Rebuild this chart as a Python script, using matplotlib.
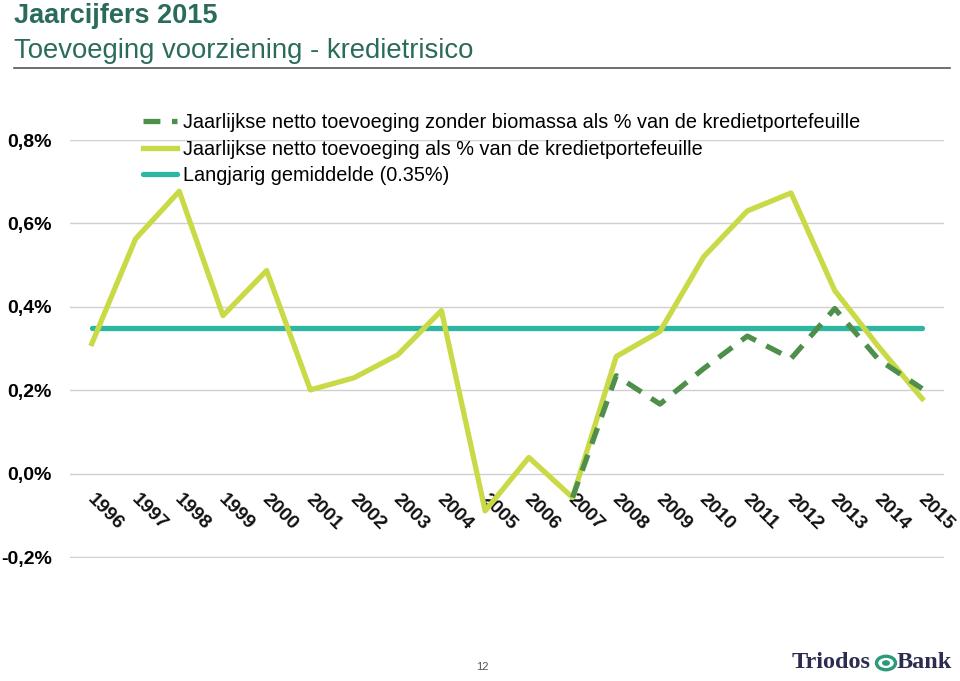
import matplotlib
matplotlib.use("Agg")
import matplotlib.pyplot as plt
import numpy as np
from matplotlib.patches import Circle

plt.rcParams['font.family'] = ['Liberation Sans', 'DejaVu Sans']

years = [str(y) for y in range(1996, 2016)]
total = [0.312, 0.563, 0.677, 0.379, 0.487, 0.201, 0.230, 0.285, 0.391, -0.089,
         0.039, -0.057, 0.281, 0.341, 0.520, 0.630, 0.673, 0.439, 0.305, 0.180]
zonder_bio = [None] * 11 + [-0.057, 0.235, 0.167, 0.252, 0.330, 0.276, 0.396, 0.274, 0.204]
gemiddelde = 0.35
yticks = [-0.2, 0.0, 0.2, 0.4, 0.6, 0.8]
ytick_labels = ['-0,2%', '0,0%', '0,2%', '0,4%', '0,6%', '0,8%']

label_dashed = "Jaarlijkse netto toevoeging zonder biomassa als % van de kredietportefeuille"
label_total = "Jaarlijkse netto toevoeging als % van de kredietportefeuille"
label_avg = "Langjarig gemiddelde (0.35%)"

c_dark = '#4f8f4c'
c_light = '#c9da46'
c_teal = '#2db7a3'
c_title = '#2b6b5b'

fig = plt.figure(figsize=(9.6, 6.81), dpi=100)
ax = fig.add_axes([70 / 960, 1 - 558 / 681, 874 / 960, 418 / 681])

x = np.arange(len(years))
zb = np.array([np.nan if v is None else v for v in zonder_bio], dtype=float)

ln_avg, = ax.plot([x[0], x[-1]], [gemiddelde, gemiddelde], color=c_teal, lw=3.8,
                  solid_capstyle='round', zorder=3)
ln_tot, = ax.plot(x, total, color=c_light, lw=3.8, zorder=4)
ln_zb, = ax.plot(x, zb, color=c_dark, lw=3.8, dashes=(3.2, 2.2), zorder=5)

ax.set_xlim(-0.5, 19.5)
ax.set_ylim(-0.202, 0.8)
ax.set_yticks(yticks)
ax.set_yticklabels(ytick_labels, fontsize=14, fontweight='bold')
ax.tick_params(axis='y', length=0, pad=13)
ax.set_xticks([])
ax.grid(axis='y', color='#d0d0d0', lw=1)
ax.set_axisbelow(True)
for s in ax.spines.values():
    s.set_visible(False)

# year labels sit just under the 0% line, as in the original slide
for i, yr in enumerate(years):
    ax.annotate(yr, (x[i], 0), xytext=(3, -12), textcoords='offset points',
                rotation=-45, rotation_mode='anchor', ha='left', va='top',
                fontsize=14, fontweight='bold', color='#111111')

leg = ax.legend([ln_zb, ln_tot, ln_avg], [label_dashed, label_total, label_avg],
                loc='upper left', bbox_to_anchor=(143 / 960, 1 - 113 / 681),
                bbox_transform=fig.transFigure, frameon=False, fontsize=14.3,
                handlelength=1.7, handletextpad=0.3, labelspacing=0.38,
                borderpad=0, borderaxespad=0)

# title block
fig.text(14 / 960, 1 - 16 / 681, "Jaarcijfers 2015", fontsize=19.5, fontweight='bold',
         color=c_title, va='center', ha='left')
fig.text(14 / 960, 1 - 51 / 681, "Toevoeging voorziening - kredietrisico", fontsize=19.8,
         color=c_title, va='center', ha='left')
fig.add_artist(plt.Line2D([14 / 960, 950 / 960], [1 - 68 / 681, 1 - 68 / 681],
                          color='#555555', lw=1.2, transform=fig.transFigure))

# footer
fig.text(482 / 960, 1 - 667 / 681, "12", fontsize=8, color='#555555', ha='center', va='center')
fig.text(871 / 960, 1 - 662 / 681, "Triodos", fontsize=17.5, fontweight='bold',
         family='Liberation Serif', color='#2b2d4f', ha='right', va='center')
fig.text(897 / 960, 1 - 662 / 681, "Bank", fontsize=17.5, fontweight='bold',
         family='Liberation Serif', color='#2b2d4f', ha='left', va='center')
fig.add_artist(Circle((886 / 960, 1 - 663 / 681), 9.5 / 960, transform=fig.transFigure,
                      facecolor='none', edgecolor='#2a9a78', lw=2.4))
fig.add_artist(Circle((886 / 960, 1 - 663 / 681), 4 / 960, transform=fig.transFigure,
                      facecolor='#2a9a78', edgecolor='none'))

fig.savefig("out.png", dpi=100)
